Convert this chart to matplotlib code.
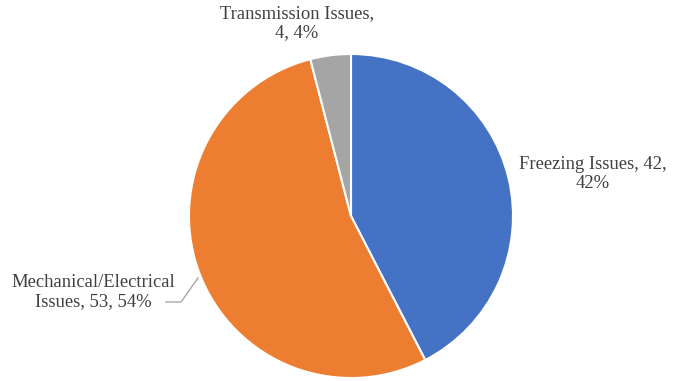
import matplotlib.pyplot as plt

categories = ["Freezing Issues", "Mechanical/Electrical\nIssues", "Transmission Issues"]
counts = [42, 53, 4]
colors = ["#4472C4", "#ED7D31", "#A5A5A5"]

plt.rcParams['font.family'] = ['Liberation Serif', 'DejaVu Serif']

fig = plt.figure(figsize=(6.77, 3.81), dpi=100)
ax = fig.add_axes([0, 0, 1, 1])

ax.pie(counts, colors=colors, startangle=90, counterclock=False,
       center=(351, 165), radius=162,
       wedgeprops=dict(edgecolor='white', linewidth=1.5))

# pie() resets the limits, so set them afterwards (pixel-like coords)
ax.set_xlim(0, 677)
ax.set_ylim(0, 381)
ax.set_aspect('equal')
ax.axis('off')

total = sum(counts)
pcts = [round(c / total * 100) for c in counts]

labels = [
    f"Freezing Issues, {counts[0]},\n{pcts[0]}%",
    f"Mechanical/Electrical\nIssues, {counts[1]}, {pcts[1]}%",
    f"Transmission Issues,\n{counts[2]}, {pcts[2]}%",
]
label_pos = [(593, 207), (93, 89), (297, 358)]

for lab, (x, y) in zip(labels, label_pos):
    ax.text(x, y, lab, ha='center', va='center', fontsize=13.4,
            color='#404040', linespacing=1.15)

# leader line for the mechanical label
ax.plot([166, 181, 198], [79, 79, 103], color='#A6A6A6', linewidth=1)

fig.savefig('out.png', dpi=100)
